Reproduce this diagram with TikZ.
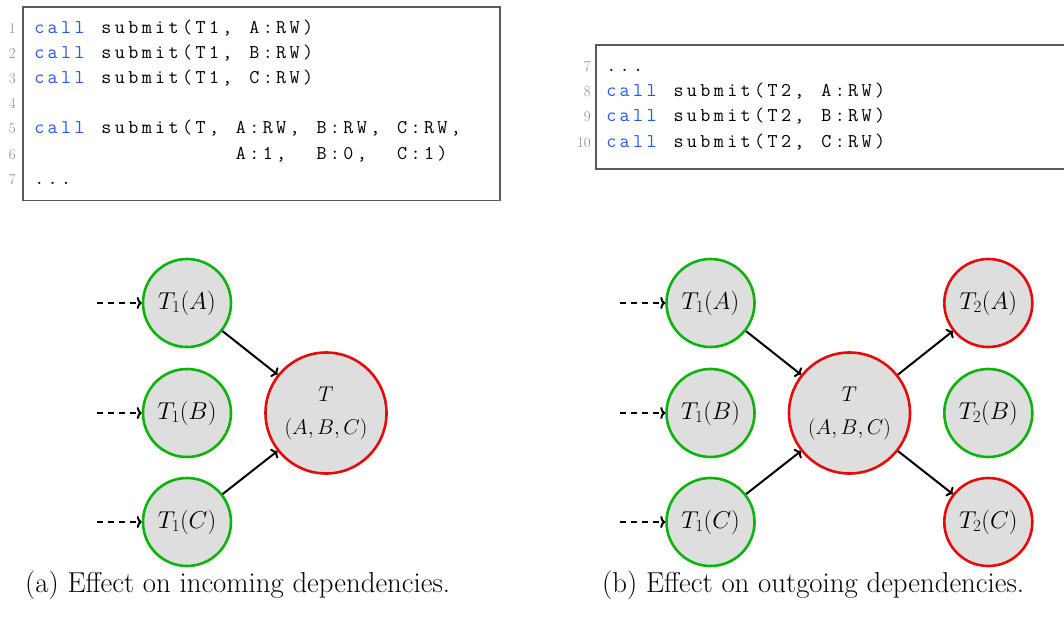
\RequirePackage{fix-cm}
\documentclass[tikz,border=0pt]{standalone}
\usepackage{fontspec}
\usetikzlibrary{arrows.meta}
\definecolor{callblue}{RGB}{38,89,235}
\definecolor{ngreen}{RGB}{10,180,10}
\definecolor{nred}{RGB}{230,10,10}
\definecolor{nfill}{RGB}{222,222,222}
\definecolor{lnogray}{RGB}{140,140,140}
\definecolor{framegray}{RGB}{90,90,90}
\ExplSyntaxOn
\dim_new:N \l_my_pitch_dim
\dim_set:Nn \l_my_pitch_dim {13.44pt}
\NewDocumentCommand \codestr { m }
  { \str_map_inline:nn {#1} { \makebox[\l_my_pitch_dim][c]{ \str_if_eq:nnF {##1} {|} {##1} } } }
\ExplSyntaxOff
\begin{document}
\begin{tikzpicture}[x=1pt,y=-1pt,
  codetext/.style={anchor=base west, inner sep=0pt, font=\fontsize{19.5}{25}\ttfamily\addfontfeatures{FakeBold=0.7}},
  lno/.style={anchor=base east, inner sep=0pt, text=lnogray, font=\fontsize{15}{18}\selectfont},
  boxframe/.style={draw=framegray, line width=1.3pt},
  task/.style={circle, fill=nfill, line width=2.6pt, minimum size=88pt, inner sep=0pt, font=\fontsize{24.4}{28}\selectfont},
  done/.style={task, draw=ngreen},
  pend/.style={task, draw=nred},
  big/.style={circle, fill=nfill, draw=nred, line width=2.6pt, minimum size=121pt, inner sep=0pt, align=center, font=\fontsize{21.3}{33}\selectfont},
  dep/.style={line width=2pt, -{To[length=5pt,width=12pt]}},
  depdash/.style={dep, dash pattern=on 6pt off 5pt},
  captext/.style={anchor=base west, inner sep=0pt, font=\fontsize{28.8}{34}\selectfont}
]
\useasboundingbox (0,0) rectangle (1064,616);
\fill[white] (0,0) rectangle (1064,616);

% ---- code box 1
\draw[boxframe] (23,7) rectangle (500,200.7);
\node[lno] (n1) at (16,33)    {1};
\node[lno] (n2) at (16,58.2)  {2};
\node[lno] (n3) at (16,83.4)  {3};
\node[lno] (n4) at (16,108.6) {4};
\node[lno] (n5) at (16,133.8) {5};
\node[lno] (n6) at (16,159)   {6};
\node[lno] (n7) at (16,184.2) {7};
\node[codetext] (l1) at (32.4,33)    {\textcolor{callblue}{\codestr{call}}\codestr{ submit(T1, A:RW)}};
\node[codetext] (l2) at (32.4,58.2)  {\textcolor{callblue}{\codestr{call}}\codestr{ submit(T1, B:RW)}};
\node[codetext] (l3) at (32.4,83.4)  {\textcolor{callblue}{\codestr{call}}\codestr{ submit(T1, C:RW)}};
\node[codetext] (l5) at (32.4,133.8) {\textcolor{callblue}{\codestr{call}}\codestr{ submit(T, A:RW, B:RW, C:RW,}};
\node[codetext] (l6) at (32.4,159)   {\codestr{|||||||||||||||A:1,||B:0,||C:1)}};
\node[codetext] (l7) at (32.4,184.2) {\codestr{...}};

% ---- code box 2
\draw[boxframe] (1064,45) -- (596,45) -- (596,169) -- (1064,169);
\node[lno] (p7) at (591,71.5)   {7};
\node[lno] (p8) at (591,96.7)   {8};
\node[lno] (p9) at (591,121.9)  {9};
\node[lno] (p10) at (591,147.1) {10};
\node[codetext] (k7) at (604.4,71.5)   {\codestr{...}};
\node[codetext] (k8) at (604.4,96.7)   {\textcolor{callblue}{\codestr{call}}\codestr{ submit(T2, A:RW)}};
\node[codetext] (k9) at (604.4,121.9)  {\textcolor{callblue}{\codestr{call}}\codestr{ submit(T2, B:RW)}};
\node[codetext] (k10) at (604.4,147.1) {\textcolor{callblue}{\codestr{call}}\codestr{ submit(T2, C:RW)}};

% ---- graph (a)
\node[done] (aA) at (187,303) {$T_1(A)$};
\node[done] (aB) at (187,413) {$T_1(B)$};
\node[done] (aC) at (187,522) {$T_1(C)$};
\node[big]  (aT) at (326,413) {$T$\\$(A,B,C)$};
\coordinate (ia) at (97,303);
\coordinate (ib) at (97,413);
\coordinate (ic) at (97,522);
\draw[depdash] (ia) -- (aA);
\draw[depdash] (ib) -- (aB);
\draw[depdash] (ic) -- (aC);
\draw[dep] (aA) -- (aT);
\draw[dep] (aC) -- (aT);

% ---- graph (b)
\node[done] (bA) at (710.5,303) {$T_1(A)$};
\node[done] (bB) at (710.5,413) {$T_1(B)$};
\node[done] (bC) at (710.5,522) {$T_1(C)$};
\node[big]  (bT) at (849.5,413) {$T$\\$(A,B,C)$};
\node[pend] (cA) at (988.3,303) {$T_2(A)$};
\node[done] (cB) at (988.3,413) {$T_2(B)$};
\node[pend] (cC) at (988.3,522) {$T_2(C)$};
\coordinate (ja) at (620,303);
\coordinate (jb) at (620,413);
\coordinate (jc) at (620,522);
\draw[depdash] (ja) -- (bA);
\draw[depdash] (jb) -- (bB);
\draw[depdash] (jc) -- (bC);
\draw[dep] (bA) -- (bT);
\draw[dep] (bC) -- (bT);
\draw[dep] (bT) -- (cA);
\draw[dep] (bT) -- (cC);

% ---- captions
\node[captext] (capa) at (25,592)  {(a) Effect on incoming dependencies.};
\node[captext] (capb) at (602,592) {(b) Effect on outgoing dependencies.};
\end{tikzpicture}
\end{document}
